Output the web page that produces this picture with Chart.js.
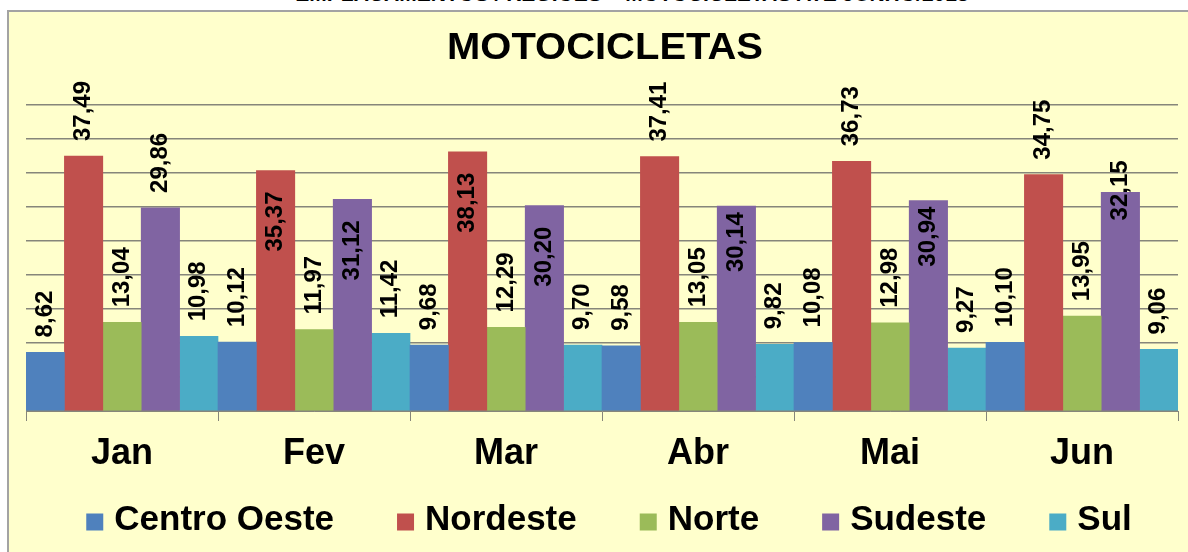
<!DOCTYPE html>
<html lang="pt-BR">
<head>
<meta charset="utf-8">
<title>Motocicletas</title>
<script src="https://cdn.jsdelivr.net/npm/chart.js@4.4.1/dist/chart.umd.min.js"></script>
<style>
  html, body { margin: 0; padding: 0; background: #fff; overflow: hidden; }
  body { width: 1188px; height: 552px; position: relative; font-family: Arial, "Liberation Sans", sans-serif; }
  #heading { position: absolute; left: 38px; top: -18px; width: 1188px; text-align: center;
             font-weight: bold; font-size: 21px; color: #000; white-space: nowrap; }
  #frame { position: absolute; left: 7px; top: 10px; width: 1300px; height: 700px;
           background: #ffffcc; border: 2px solid #a3a3a3; }
  #wrap { position: absolute; left: 0; top: 0; width: 1188px; height: 552px; }
</style>
</head>
<body>
<div id="heading">EMPLACAMENTOS / REGIÕES – MOTOCICLETAS ATÉ JUNHO/2013</div>
<div id="frame"></div>
<div id="wrap"><canvas id="chart"></canvas></div>
<script>
// Participação (%) de cada região nos emplacamentos de motocicletas, jan-jun.
const months      = ["Jan", "Fev", "Mar", "Abr", "Mai", "Jun"];
const centroOeste = [8.62, 10.12, 9.68, 9.58, 10.08, 10.10];
const nordeste    = [37.49, 35.37, 38.13, 37.41, 36.73, 34.75];
const norte       = [13.04, 11.97, 12.29, 13.05, 12.98, 13.95];
const sudeste     = [29.86, 31.12, 30.20, 30.14, 30.94, 32.15];
const sul         = [10.98, 11.42, 9.70, 9.82, 9.27, 9.06];

// where each value label sits relative to its bar ("out" above, "in"/"edge" inside, "mid" across the top)
const nordesteLabelPos = ["out", "in", "in", "out", "out", "out"];
const sudesteLabelPos  = ["out", "in", "in", "edge", "edge", "mid"];

const FONT = 'Arial, "Liberation Sans", sans-serif';
const GRID = "#86867a";

const fmt = v => v.toFixed(2).replace(".", ",");

const extras = {
  id: "extras",
  afterDatasetsDraw(chart) {
    const ctx = chart.ctx;
    ctx.save();
    ctx.fillStyle = "#000";
    ctx.font = "bold 24px " + FONT;
    ctx.textBaseline = "middle";
    chart.data.datasets.forEach((ds, di) => {
      chart.getDatasetMeta(di).data.forEach((bar, i) => {
        const mode = (ds.labelPos && ds.labelPos[i]) || "out";
        let y, align;
        if (mode === "in")        { y = bar.y + 21; align = "right"; }
        else if (mode === "edge") { y = bar.y + 6;  align = "right"; }
        else if (mode === "mid")  { y = bar.y - 2;  align = "center"; }
        else                      { y = bar.y - 15; align = "left"; }
        ctx.save();
        ctx.translate(bar.x, y);
        ctx.rotate(-Math.PI / 2);
        ctx.textAlign = align;
        ctx.fillText(fmt(ds.data[i]), 0, 0);
        ctx.restore();
      });
    });
    ctx.restore();
  },
  afterDraw(chart) {
    const ctx = chart.ctx;
    ctx.save();
    // chart title, slightly widened
    ctx.fillStyle = "#000";
    ctx.font = "bold 37px " + FONT;
    ctx.textAlign = "center";
    ctx.textBaseline = "alphabetic";
    ctx.translate(605, 59);
    ctx.scale(1.08, 1);
    ctx.fillText("MOTOCICLETAS", 0, 0);
    ctx.restore();

    // legend in one row under the month labels
    ctx.save();
    ctx.font = "bold 35px " + FONT;
    ctx.textBaseline = "middle";
    ctx.textAlign = "left";
    const BOX = 17, GAP_TXT = 11, GAP_ITEM = 63, CX = 609, CY = 520;
    const items = chart.data.datasets.map(ds => ({
      text: ds.label, color: ds.backgroundColor, w: ctx.measureText(ds.label).width
    }));
    const total = items.reduce((s, it) => s + BOX + GAP_TXT + it.w, 0) + GAP_ITEM * (items.length - 1);
    let x = CX - total / 2;
    items.forEach(it => {
      ctx.fillStyle = it.color;
      ctx.fillRect(x, CY - BOX / 2 + 2, BOX, BOX);
      ctx.fillStyle = "#000";
      ctx.fillText(it.text, x + BOX + GAP_TXT, CY);
      x += BOX + GAP_TXT + it.w + GAP_ITEM;
    });
    ctx.restore();
  }
};

new Chart(document.getElementById("chart"), {
  type: "bar",
  data: {
    labels: months,
    datasets: [
      { label: "Centro Oeste", data: centroOeste, backgroundColor: "#4f81bd" },
      { label: "Nordeste", data: nordeste, backgroundColor: "#c0504d", labelPos: nordesteLabelPos },
      { label: "Norte", data: norte, backgroundColor: "#9bbb59" },
      { label: "Sudeste", data: sudeste, backgroundColor: "#8064a2", labelPos: sudesteLabelPos },
      { label: "Sul", data: sul, backgroundColor: "#4bacc6" },
    ],
  },
  options: {
    responsive: true,
    maintainAspectRatio: false,
    animation: false,
    layout: { padding: { left: 26, right: 10, top: 105, bottom: 0 } },
    datasets: { bar: { barPercentage: 1, categoryPercentage: 1, borderWidth: 0 } },
    scales: {
      x: {
        afterFit: s => { s.height = 141; },
        grid: { offset: true, drawOnChartArea: false, drawTicks: true, tickLength: 10, color: GRID },
        border: { display: true, color: GRID, width: 1 },
        ticks: { color: "#000", font: { family: FONT, size: 36, weight: "bold" }, padding: 11 },
      },
      y: {
        min: 0,
        max: 45,
        afterFit: s => { s.width = 0; },
        ticks: { display: false, stepSize: 5 },
        grid: { color: GRID, lineWidth: 1.5, drawTicks: false },
        border: { display: false },
      },
    },
    plugins: {
      legend: { display: false },
      tooltip: { enabled: false },
    },
  },
  plugins: [extras],
});
</script>
</body>
</html>
